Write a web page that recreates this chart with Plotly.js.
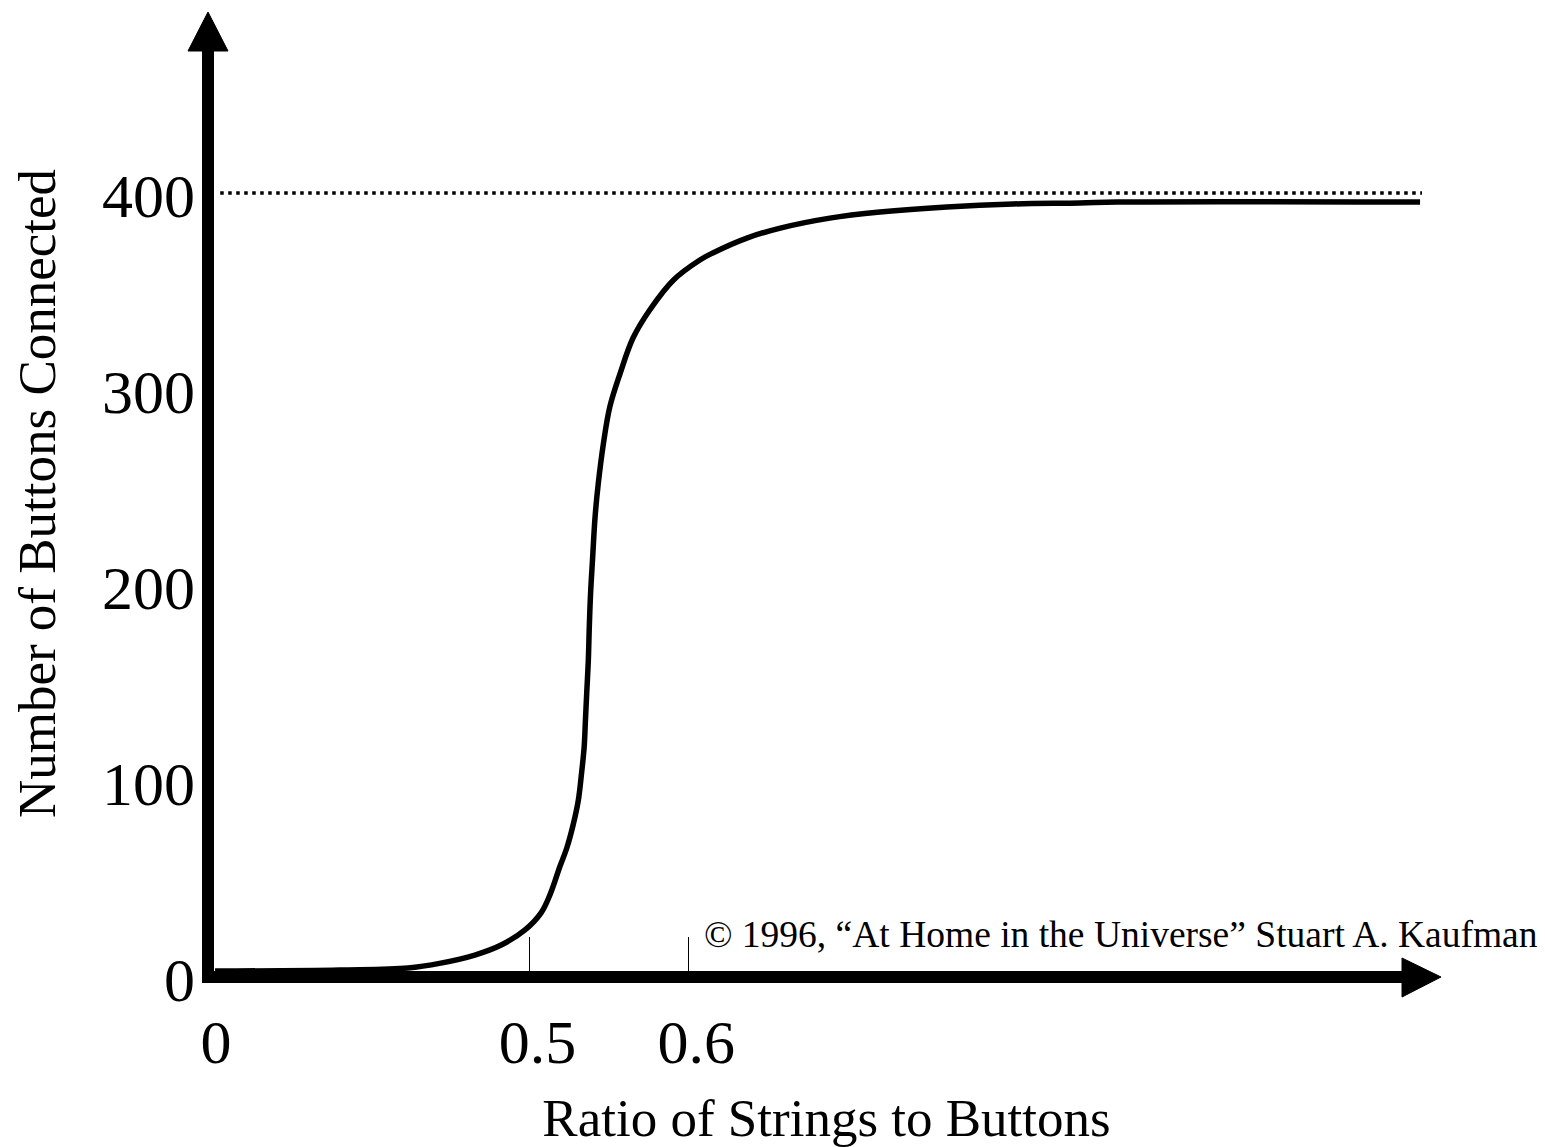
<!DOCTYPE html>
<html>
<head>
<meta charset="utf-8">
<script src="https://cdn.plot.ly/plotly-3.0.1.min.js"></script>
<style>html,body{margin:0;padding:0;background:#fff;}#chart{width:1545px;height:1147px;}</style>
</head>
<body>
<div id="chart"></div>
<script>
// Schematic x position (axis units) and number of buttons connected
const ratioPos = [0.011, 0.205, 0.311, 0.362, 0.415, 0.456, 0.493, 0.518, 0.533, 0.547, 0.558, 0.568, 0.576, 0.581, 0.585, 0.587, 0.589, 0.5915, 0.593, 0.595, 0.598, 0.602, 0.607, 0.615, 0.625, 0.641, 0.661, 0.687, 0.724, 0.765, 0.785, 0.838, 0.890, 0.967, 1.045, 1.149, 1.252, 1.356, 1.414, 1.885];
const buttonsConnected = [3, 3.6, 4.6, 7.1, 11.2, 16.3, 24, 32.7, 42.9, 56.1, 65.8, 77.8, 90.3, 104.1, 117.3, 131.1, 144.9, 161.7, 178.6, 195.9, 212.8, 234.8, 251.9, 272.3, 291.0, 308.0, 326.0, 340.3, 355.6, 365.8, 369.4, 377.0, 382.1, 387.2, 390.3, 392.9, 394.4, 394.9, 395.4, 395.4];

// Tick labels
const xTickVals = [0, 0.5, 0.747];
const xTickText = ['0', '0.5', '0.6'];
const yTickVals = [0, 100, 200, 300, 400];
const yTickText = ['0', '100', '200', '300', '400'];

// Total number of buttons (dotted asymptote)
const totalButtons = 400;
const asymptoteSpan = [0.019, 1.888];

const FONT = 'Liberation Serif, Times New Roman, serif';

// plot-area geometry helpers (pixel -> paper)
const L = 208, R = 100, T = 10, B = 170, W = 1545, H = 1147;
const PW = W - L - R, PH = H - T - B;
const P = px => (px - L) / PW;
const Q = py => (H - B - py) / PH;

const trace = {
  x: ratioPos,
  y: buttonsConnected,
  type: 'scatter',
  mode: 'lines',
  line: {color: '#000', width: 5.5, shape: 'spline', smoothing: 1.0},
  hoverinfo: 'skip',
  showlegend: false
};

const shapes = [
  // dotted asymptote
  {type: 'line', xref: 'x', yref: 'y', x0: asymptoteSpan[0], x1: asymptoteSpan[1], y0: totalButtons, y1: totalButtons,
   line: {color: '#000', width: 3.5, dash: '3.5px,4.5px'}},
  // y-axis shaft
  {type: 'line', xref: 'paper', yref: 'paper', x0: P(208), x1: P(208), y0: Q(983), y1: Q(48),
   line: {color: '#000', width: 12}},
  // x-axis shaft
  {type: 'line', xref: 'paper', yref: 'paper', x0: P(202), x1: P(1404), y0: Q(977), y1: Q(977),
   line: {color: '#000', width: 12}},
  // y arrowhead
  {type: 'path', xref: 'paper', yref: 'paper',
   path: `M ${P(208)} ${Q(12)} L ${P(188)} ${Q(51)} L ${P(228)} ${Q(51)} Z`,
   fillcolor: '#000', line: {color: '#000', width: 1}},
  // x arrowhead
  {type: 'path', xref: 'paper', yref: 'paper',
   path: `M ${P(1441)} ${Q(977)} L ${P(1402)} ${Q(958)} L ${P(1402)} ${Q(997)} Z`,
   fillcolor: '#000', line: {color: '#000', width: 1}}
];

const layout = {
  width: W, height: H,
  margin: {l: L, r: R, t: T, b: B, pad: 0},
  paper_bgcolor: '#fff', plot_bgcolor: '#fff',
  font: {family: FONT, color: '#000'},
  showlegend: false,
  xaxis: {
    range: [0, PW / 643],
    showgrid: false, zeroline: false, showline: false,
    tickmode: 'array', tickvals: xTickVals, ticktext: xTickText,
    ticks: 'inside', ticklen: 40, tickwidth: 1.3, tickcolor: '#000',
    tickfont: {family: FONT, size: 62, color: '#000'},
    ticklabelshift: 8, ticklabelstandoff: 23,
    title: {text: 'Ratio of Strings to Buttons', font: {family: FONT, size: 53, color: '#000'}, standoff: 25},
    fixedrange: true
  },
  yaxis: {
    range: [0, PH / 1.96],
    showgrid: false, zeroline: false, showline: false,
    tickmode: 'array', tickvals: yTickVals, ticktext: yTickText,
    ticks: '',
    tickfont: {family: FONT, size: 62, color: '#000'},
    ticklabelshift: 2, ticklabelstandoff: 12,
    title: {text: 'Number of Buttons Connected', font: {family: FONT, size: 53, color: '#000'}, standoff: 29},
    fixedrange: true
  },
  shapes: shapes,
  annotations: [{
    xref: 'paper', yref: 'paper', x: P(1540), y: Q(934),
    xanchor: 'right', yanchor: 'middle', showarrow: false,
    text: '© 1996, “At Home in the Universe” Stuart A. Kaufman',
    font: {family: FONT, size: 37.5, color: '#000'}
  }]
};

Plotly.newPlot('chart', [trace], layout, {staticPlot: true, displayModeBar: false});
</script>
</body>
</html>
